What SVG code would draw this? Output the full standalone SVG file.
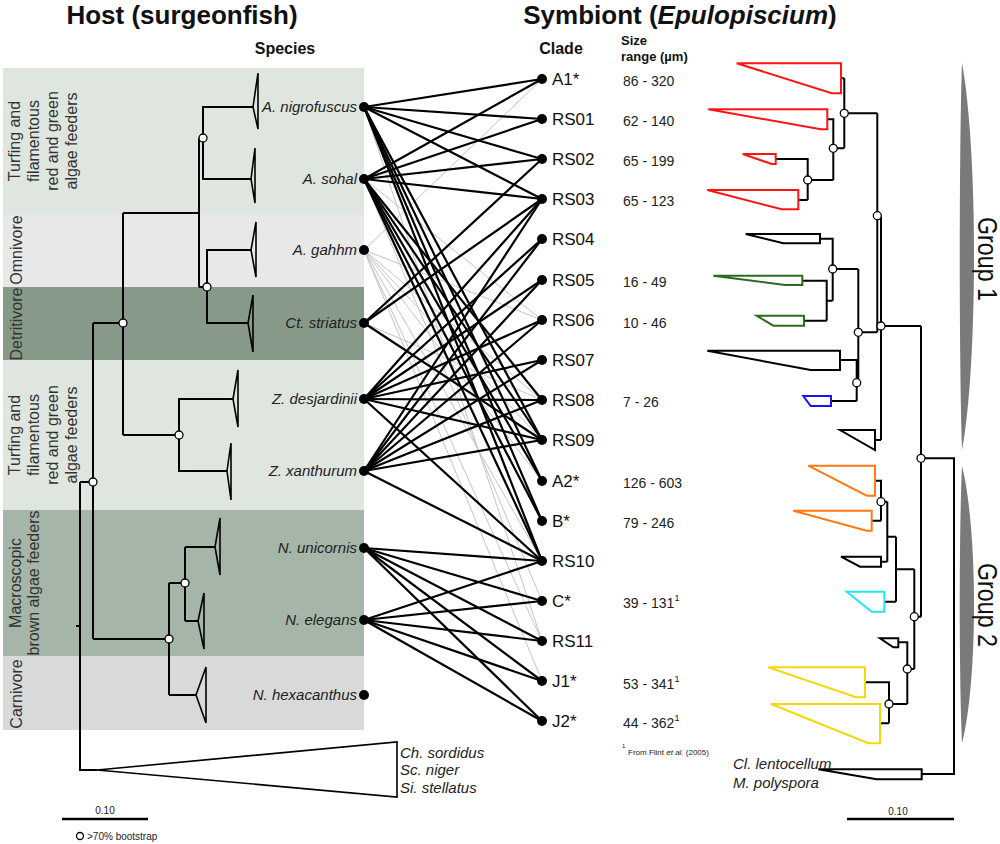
<svg xmlns="http://www.w3.org/2000/svg" width="1000" height="844" viewBox="0 0 1000 844">
<style>
.title{font-family:"Liberation Sans",Arial,sans-serif;font-size:26px;font-weight:bold;fill:#111}
.head{font-family:"Liberation Sans",Arial,sans-serif;font-size:16px;font-weight:bold;fill:#111}
.head2{font-family:"Liberation Sans",Arial,sans-serif;font-size:13px;font-weight:bold;fill:#111}
.bl{font-family:"Liberation Sans",Arial,sans-serif;font-size:16px;fill:#333}
.sp{font-family:"Liberation Sans",Arial,sans-serif;font-size:15px;font-style:italic;fill:#222}
.cl{font-family:"Liberation Sans",Arial,sans-serif;font-size:17px;fill:#111}
.sz{font-family:"Liberation Sans",Arial,sans-serif;font-size:14px;fill:#222}
.sm{font-family:"Liberation Sans",Arial,sans-serif;font-size:10px;fill:#222}
.br{stroke:#000;stroke-width:2;fill:none}
.tri{stroke:#000;stroke-width:1.6;fill:none;stroke-linejoin:miter}
.bs{fill:#fff;stroke:#000;stroke-width:1.3}
.dot{fill:#000}
.lk{stroke:#000;stroke-width:2.2}
.gl{stroke:#c4c4c4;stroke-width:1}
.ct{fill:none;stroke-width:2;stroke-linejoin:miter}
.grp{fill:#7a7a7a}
.grpt{font-family:"Liberation Sans",Arial,sans-serif;font-size:27px;fill:#111}
</style>
<rect width="1000" height="844" fill="#fff"/>

<!-- titles -->
<text class="title" x="182" y="24" text-anchor="middle">Host (surgeonfish)</text>
<text class="title" x="680" y="24" text-anchor="middle">Symbiont (<tspan font-style="italic">Epulopiscium</tspan>)</text>
<text class="head" x="285" y="54" text-anchor="middle">Species</text>
<text class="head" x="561" y="54" text-anchor="middle">Clade</text>
<text class="head2" x="621" y="45">Size</text>
<text class="head2" x="621" y="61">range (µm)</text>

<!-- diet bands -->
<g id="bands">
<rect x="3" y="68" width="361" height="146" fill="#dfe6e0"/>
<rect x="3" y="214" width="361" height="73" fill="#e8e8e8"/>
<rect x="3" y="287" width="361" height="73" fill="#879a8a"/>
<rect x="3" y="360" width="361" height="150" fill="#dfe6e0"/>
<rect x="3" y="510" width="361" height="146" fill="#a5b6a8"/>
<rect x="3" y="656" width="361" height="74" fill="#d9d9d9"/>
<text class="bl" transform="translate(19.5,141) rotate(-90)" text-anchor="middle"><tspan x="0" dy="0">Turfing and</tspan><tspan x="0" dy="19">filamentous</tspan><tspan x="0" dy="19">red and green</tspan><tspan x="0" dy="19">algae feeders</tspan></text>
<text class="bl" transform="translate(21.5,250) rotate(-90)" text-anchor="middle">Omnivore</text>
<text class="bl" transform="translate(21.5,324) rotate(-90)" text-anchor="middle">Detritivore</text>
<text class="bl" transform="translate(19.5,435) rotate(-90)" text-anchor="middle"><tspan x="0" dy="0">Turfing and</tspan><tspan x="0" dy="19">filamentous</tspan><tspan x="0" dy="19">red and green</tspan><tspan x="0" dy="19">algae feeders</tspan></text>
<text class="bl" transform="translate(21,583) rotate(-90)" text-anchor="middle"><tspan x="0" dy="0">Macroscopic</tspan><tspan x="0" dy="18">brown algae feeders</tspan></text>
<text class="bl" transform="translate(21.5,694) rotate(-90)" text-anchor="middle">Carnivore</text>
</g>

<!-- host tree -->
<g id="host-tree">
<path class="br" d="M253,107H203V179H252M203,138H199M199,138V287M199,213H123M251,250H207V323H248M207,287H199M123,213V435M123,323H93M233,399H179V471H227M179,435H123M93,323V639M93,482H80M169,639H93M169,583V695M169,583H185M185,547V621M215,547H185M198,621H185M196,695H169M80,482V770H97M76,626H80"/>
<polygon class="tri" points="253,107 258,73 258,129"/>
<polygon class="tri" points="251,179 255,148 255,203"/>
<polygon class="tri" points="251,250 256,222 256,277"/>
<polygon class="tri" points="248,323 253,295 253,352"/>
<polygon class="tri" points="233,399 238,370 238,427"/>
<polygon class="tri" points="227,471 231,443 231,500"/>
<polygon class="tri" points="215,547 220,518 220,575"/>
<polygon class="tri" points="198,621 204,593 204,649"/>
<polygon class="tri" points="196,695 206,667 206,723"/>
<polygon class="tri" points="97,770 397,742 397,797"/>
<circle class="bs" cx="203" cy="138" r="4"/>
<circle class="bs" cx="207" cy="287" r="4"/>
<circle class="bs" cx="123" cy="323" r="4"/>
<circle class="bs" cx="179" cy="435" r="4"/>
<circle class="bs" cx="93" cy="482" r="4"/>
<circle class="bs" cx="185" cy="583" r="4"/>
<circle class="bs" cx="169" cy="639" r="4"/>
<text class="sp" x="400" y="758">Ch. sordidus</text>
<text class="sp" x="400" y="775">Sc. niger</text>
<text class="sp" x="400" y="793">Si. stellatus</text>
<line x1="62" y1="819" x2="148" y2="819" stroke="#000" stroke-width="2.5"/>
<text class="sm" x="105" y="814" text-anchor="middle">0.10</text>
<circle class="bs" cx="80" cy="836" r="3.5"/>
<text class="sm" x="87" y="840">&gt;70% bootstrap</text>
</g>

<!-- connectors -->
<g id="connectors">
<g class="gl">
<line x1="364" y1="250" x2="542" y2="79"/>
<line x1="364" y1="250" x2="542" y2="320"/>
<line x1="364" y1="250" x2="542" y2="400"/>
<line x1="364" y1="250" x2="542" y2="440"/>
<line x1="364" y1="250" x2="542" y2="481"/>
<line x1="364" y1="250" x2="542" y2="561"/>
<line x1="364" y1="250" x2="542" y2="641"/>
<line x1="364" y1="250" x2="542" y2="681"/>
<line x1="364" y1="107" x2="542" y2="641"/>
<line x1="364" y1="179" x2="542" y2="320"/>
<line x1="364" y1="179" x2="542" y2="601"/>
<line x1="364" y1="323" x2="542" y2="400"/>
</g>
<g class="lk">
<line x1="364" y1="107" x2="542" y2="79"/>
<line x1="364" y1="107" x2="542" y2="119"/>
<line x1="364" y1="107" x2="542" y2="159"/>
<line x1="364" y1="107" x2="542" y2="199"/>
<line x1="364" y1="107" x2="542" y2="440"/>
<line x1="364" y1="107" x2="542" y2="481"/>
<line x1="364" y1="107" x2="542" y2="521"/>
<line x1="364" y1="107" x2="542" y2="561"/>
<line x1="364" y1="179" x2="542" y2="79"/>
<line x1="364" y1="179" x2="542" y2="119"/>
<line x1="364" y1="179" x2="542" y2="159"/>
<line x1="364" y1="179" x2="542" y2="199"/>
<line x1="364" y1="179" x2="542" y2="400"/>
<line x1="364" y1="179" x2="542" y2="440"/>
<line x1="364" y1="179" x2="542" y2="481"/>
<line x1="364" y1="179" x2="542" y2="521"/>
<line x1="364" y1="179" x2="542" y2="561"/>
<line x1="364" y1="323" x2="542" y2="159"/>
<line x1="364" y1="323" x2="542" y2="199"/>
<line x1="364" y1="323" x2="542" y2="440"/>
<line x1="364" y1="399" x2="542" y2="199"/>
<line x1="364" y1="399" x2="542" y2="239"/>
<line x1="364" y1="399" x2="542" y2="280"/>
<line x1="364" y1="399" x2="542" y2="320"/>
<line x1="364" y1="399" x2="542" y2="360"/>
<line x1="364" y1="399" x2="542" y2="400"/>
<line x1="364" y1="399" x2="542" y2="440"/>
<line x1="364" y1="399" x2="542" y2="561"/>
<line x1="364" y1="471" x2="542" y2="199"/>
<line x1="364" y1="471" x2="542" y2="239"/>
<line x1="364" y1="471" x2="542" y2="280"/>
<line x1="364" y1="471" x2="542" y2="320"/>
<line x1="364" y1="471" x2="542" y2="360"/>
<line x1="364" y1="471" x2="542" y2="400"/>
<line x1="364" y1="471" x2="542" y2="440"/>
<line x1="364" y1="471" x2="542" y2="561"/>
<line x1="364" y1="548" x2="542" y2="561"/>
<line x1="364" y1="548" x2="542" y2="601"/>
<line x1="364" y1="548" x2="542" y2="641"/>
<line x1="364" y1="548" x2="542" y2="681"/>
<line x1="364" y1="548" x2="542" y2="721"/>
<line x1="364" y1="620" x2="542" y2="561"/>
<line x1="364" y1="620" x2="542" y2="601"/>
<line x1="364" y1="620" x2="542" y2="641"/>
<line x1="364" y1="620" x2="542" y2="681"/>
<line x1="364" y1="620" x2="542" y2="721"/>
</g>
</g>

<!-- host nodes -->
<g id="host-nigrofuscus"><circle class="dot" cx="364" cy="107" r="5"/><text class="sp" x="357" y="112" text-anchor="end">A. nigrofuscus</text></g>
<g id="host-sohal"><circle class="dot" cx="364" cy="179" r="5"/><text class="sp" x="357" y="184" text-anchor="end">A. sohal</text></g>
<g id="host-gahhm"><circle class="dot" cx="364" cy="250" r="5"/><text class="sp" x="357" y="255" text-anchor="end">A. gahhm</text></g>
<g id="host-striatus"><circle class="dot" cx="364" cy="323" r="5"/><text class="sp" x="357" y="328" text-anchor="end">Ct. striatus</text></g>
<g id="host-desjardinii"><circle class="dot" cx="364" cy="399" r="5"/><text class="sp" x="357" y="404" text-anchor="end">Z. desjardinii</text></g>
<g id="host-xanthurum"><circle class="dot" cx="364" cy="471" r="5"/><text class="sp" x="357" y="476" text-anchor="end">Z. xanthurum</text></g>
<g id="host-unicornis"><circle class="dot" cx="364" cy="548" r="5"/><text class="sp" x="357" y="553" text-anchor="end">N. unicornis</text></g>
<g id="host-elegans"><circle class="dot" cx="364" cy="620" r="5"/><text class="sp" x="357" y="625" text-anchor="end">N. elegans</text></g>
<g id="host-hexacanthus"><circle class="dot" cx="364" cy="695" r="5"/><text class="sp" x="357" y="700" text-anchor="end">N. hexacanthus</text></g>

<!-- clade nodes -->
<g id="clade-A1"><circle class="dot" cx="542" cy="79" r="5"/><text class="cl" x="552" y="85">A1*</text><text class="sz" x="623" y="86">86 - 320</text></g>
<g id="clade-RS01"><circle class="dot" cx="542" cy="119" r="5"/><text class="cl" x="552" y="125">RS01</text><text class="sz" x="623" y="126">62 - 140</text></g>
<g id="clade-RS02"><circle class="dot" cx="542" cy="159" r="5"/><text class="cl" x="552" y="165">RS02</text><text class="sz" x="623" y="166">65 - 199</text></g>
<g id="clade-RS03"><circle class="dot" cx="542" cy="199" r="5"/><text class="cl" x="552" y="205">RS03</text><text class="sz" x="623" y="206">65 - 123</text></g>
<g id="clade-RS04"><circle class="dot" cx="542" cy="239" r="5"/><text class="cl" x="552" y="245">RS04</text></g>
<g id="clade-RS05"><circle class="dot" cx="542" cy="280" r="5"/><text class="cl" x="552" y="286">RS05</text><text class="sz" x="623" y="287">16 - 49</text></g>
<g id="clade-RS06"><circle class="dot" cx="542" cy="320" r="5"/><text class="cl" x="552" y="326">RS06</text><text class="sz" x="623" y="328">10 - 46</text></g>
<g id="clade-RS07"><circle class="dot" cx="542" cy="360" r="5"/><text class="cl" x="552" y="366" fill="#3f2424">RS07</text></g>
<g id="clade-RS08"><circle class="dot" cx="542" cy="400" r="5"/><text class="cl" x="552" y="406">RS08</text><text class="sz" x="623" y="407">7 - 26</text></g>
<g id="clade-RS09"><circle class="dot" cx="542" cy="440" r="5"/><text class="cl" x="552" y="446">RS09</text></g>
<g id="clade-A2"><circle class="dot" cx="542" cy="481" r="5"/><text class="cl" x="552" y="487">A2*</text><text class="sz" x="623" y="488">126 - 603</text></g>
<g id="clade-B"><circle class="dot" cx="542" cy="521" r="5"/><text class="cl" x="552" y="527">B*</text><text class="sz" x="623" y="528">79 - 246</text></g>
<g id="clade-RS10"><circle class="dot" cx="542" cy="561" r="5"/><text class="cl" x="552" y="567">RS10</text></g>
<g id="clade-C"><circle class="dot" cx="542" cy="601" r="5"/><text class="cl" x="552" y="607">C*</text><text class="sz" x="623" y="608">39 - 131<tspan font-size="9" dy="-7">1</tspan></text></g>
<g id="clade-RS11"><circle class="dot" cx="542" cy="641" r="5"/><text class="cl" x="552" y="647">RS11</text></g>
<g id="clade-J1"><circle class="dot" cx="542" cy="681" r="5"/><text class="cl" x="552" y="687">J1*</text><text class="sz" x="623" y="689">53 - 341<tspan font-size="9" dy="-7">1</tspan></text></g>
<g id="clade-J2"><circle class="dot" cx="542" cy="721" r="5"/><text class="cl" x="552" y="727">J2*</text><text class="sz" x="623" y="728">44 - 362<tspan font-size="9" dy="-7">1</tspan></text></g>
<text x="622" y="748" font-family="Liberation Sans, Arial, sans-serif" font-size="6" fill="#222">1</text>
<text x="628" y="755" font-family="Liberation Sans, Arial, sans-serif" font-size="8" fill="#222">From Flint <tspan font-style="italic">et al.</tspan> (2005)</text>

<!-- symbiont tree -->
<g id="symbiont-tree">
<path class="br" d="M841,78.3H844.3M844.3,78.3V148.3M844.3,113.3H877.3M827.3,119.3H833.3V180M833.3,148.3H844.3M775.7,159H807.7V200M807.7,180H833.3M798.3,200H807.7M877.3,113.3V332.3M877.3,215.7H881M881,215.7V440M881,326H921M875,440H881M820,238.7H832.7V300.7M832.7,269H858.3M802.3,280.7H826.7V320.7M826.7,300.7H832.7M804,320.7H826.7M840,360H856.7V401M831,401H856.7M858.3,269V382.7H856.7M858.3,332.3H877.3M921,326V616.7M921,458.3H954V774H921.7M875,480.7H881V520.7M881,501.7H887.3M871.7,520.7H881M887.3,501.7V561.7M881,561.7H887.3M887.3,536.7H896M884.3,601.7H896M896,536.7V601.7M896,569.3H914.3M914.3,569.3V669M914.3,616.7H921M898.3,642.3H907.3V704M907.3,669H914.3M865,682.3H889V723.3M889,704H907.3M880,723.3H889"/>
<g class="ct" stroke="#ff1414">
<polygon points="736.7,63.3 841,63.3 841,93.3 831.7,93.3"/>
<polygon points="708.3,109.3 827.3,109.3 827.3,129.3 820.7,129.3"/>
<polygon points="742.7,154 775.7,154 775.7,164 771.7,164"/>
<polygon points="707.3,190 798.3,190 798.3,209.3 781.7,209.3"/>
</g>
<polygon class="ct" stroke="#000" points="745.7,234 820,234 820,243.3 783.3,243.3"/>
<g class="ct" stroke="#2d6a1f">
<polygon points="713.3,275.7 802.3,275.7 802.3,285 785,285"/>
<polygon points="756.7,315.7 804,315.7 804,325.7 773.3,325.7"/>
</g>
<polygon class="ct" stroke="#000" points="707.3,350.7 840,350.7 840,370 810.7,370"/>
<polygon class="ct" stroke="#1414ff" points="803.3,396 831,396 831,406 810.7,406"/>
<polygon class="ct" stroke="#000" points="840,430 875,430 875,450"/>
<g class="ct" stroke="#ff7a14">
<polygon points="808.3,465.7 875,465.7 875,495.7 866.7,495.7"/>
<polygon points="793.3,510.7 871.7,510.7 871.7,530.7 866.7,530.7"/>
</g>
<polygon class="ct" stroke="#000" points="841,556.7 881,556.7 881,566.7 860,566.7"/>
<polygon class="ct" stroke="#22e6f2" points="846.7,591.7 884.3,591.7 884.3,611.7 871.7,611.7"/>
<polygon class="ct" stroke="#000" points="880,638.3 898.3,638.3 898.3,647.3 893.3,647.3"/>
<g class="ct" stroke="#f4d80a">
<polygon points="768.3,667.3 865,667.3 865,697.3 856,697.3"/>
<polygon points="771,704 880,704 880,743.3 868.3,743.3"/>
</g>
<polygon class="ct" stroke="#000" points="818.3,769.3 921.7,769.3 921.7,779.3 876.7,779.3"/>
<circle class="bs" cx="844.3" cy="113.3" r="4"/>
<circle class="bs" cx="833.3" cy="148.3" r="4"/>
<circle class="bs" cx="807.7" cy="180" r="4"/>
<circle class="bs" cx="877.3" cy="215.7" r="4"/>
<circle class="bs" cx="832.7" cy="269" r="4"/>
<circle class="bs" cx="858.3" cy="332.3" r="4"/>
<circle class="bs" cx="856.7" cy="382.7" r="4"/>
<circle class="bs" cx="881" cy="326" r="4"/>
<circle class="bs" cx="921" cy="458.3" r="4"/>
<circle class="bs" cx="881" cy="501.7" r="4"/>
<circle class="bs" cx="914.3" cy="616.7" r="4"/>
<circle class="bs" cx="907.3" cy="669" r="4"/>
<circle class="bs" cx="889" cy="704" r="4"/>
<text class="sp" x="733" y="769" font-size="13.5">Cl. lentocellum</text>
<text class="sp" x="733" y="788" font-size="13.5">M. polyspora</text>
<line x1="847" y1="819" x2="954" y2="819" stroke="#000" stroke-width="2.5"/>
<text class="sm" x="898" y="815" text-anchor="middle">0.10</text>
</g>

<!-- groups -->
<g id="group1"><path class="grp" d="M962,63C978,150 978,363 962,450C959,363 959,150 962,63Z"/><text class="grpt" transform="translate(978,259) rotate(90)" text-anchor="middle" textLength="84" lengthAdjust="spacingAndGlyphs">Group 1</text></g>
<g id="group2"><path class="grp" d="M962,466C978,530 978,680 962,743C959,680 959,530 962,466Z"/><text class="grpt" transform="translate(978,605) rotate(90)" text-anchor="middle" textLength="84" lengthAdjust="spacingAndGlyphs">Group 2</text></g>
</svg>
